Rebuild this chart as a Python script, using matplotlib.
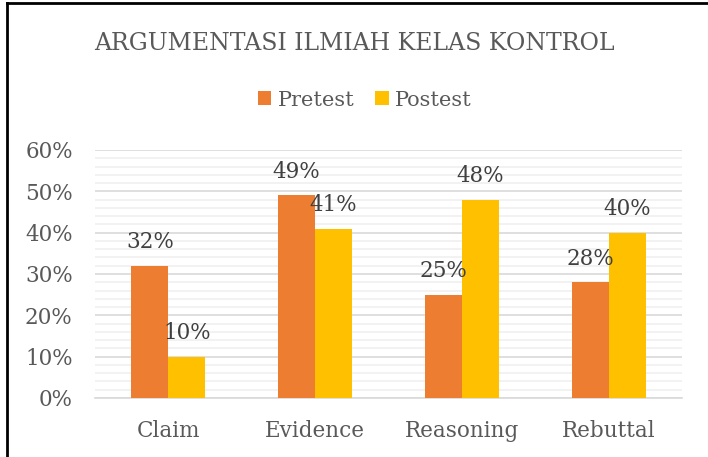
import matplotlib
matplotlib.use("Agg")
import matplotlib.pyplot as plt
from matplotlib.lines import Line2D
from matplotlib.patches import Patch
import numpy as np

categories = ["Claim", "Evidence", "Reasoning", "Rebuttal"]
pretest = [0.32, 0.49, 0.25, 0.28]
postest = [0.10, 0.41, 0.48, 0.40]
series_names = ["Pretest", "Postest"]
title = "ARGUMENTASI ILMIAH KELAS KONTROL"

plt.rcParams['font.family'] = ['DejaVu Serif']

W, H = 708, 457
fig = plt.figure(figsize=(W/100, H/100), dpi=100)
ax = fig.add_axes([95/W, 1-398/H, (682-95)/W, (398-150)/H])

orange = "#ED7D31"
yellow = "#FFC000"
x = np.arange(len(categories))
bw = 0.252
b1 = ax.bar(x - bw/2, pretest, bw, color=orange, zorder=3)
b2 = ax.bar(x + bw/2, postest, bw, color=yellow, zorder=3)

ax.set_xlim(-0.5, len(categories) - 0.5)
ax.set_ylim(0, 0.6)
ax.set_yticks(np.arange(0, 0.61, 0.1))
ax.set_yticklabels([f"{int(round(v*100))}%" for v in np.arange(0, 0.61, 0.1)])
ax.set_yticks(np.arange(0, 0.61, 0.02), minor=True)
ax.set_xticks(x)
ax.set_xticklabels(categories)
ax.grid(axis='y', which='major', color="#D9D9D9", linewidth=1.2, zorder=0)
ax.grid(axis='y', which='minor', color="#F0F0F0", linewidth=1.2, zorder=0)
ax.tick_params(axis='both', which='both', length=0, labelsize=15.5, labelcolor="#595959")
ax.tick_params(axis='y', pad=16)
ax.tick_params(axis='x', pad=16)
for s in ["top", "right", "left"]:
    ax.spines[s].set_visible(False)
ax.spines["bottom"].set_color("#D9D9D9")
ax.spines["bottom"].set_linewidth(1.2)

for bars, vals in ((b1, pretest), (b2, postest)):
    for r, v in zip(bars, vals):
        ax.annotate(f"{int(round(v*100))}%", (r.get_x() + r.get_width()/2, v),
                    xytext=(0, 17), textcoords="offset points",
                    ha="center", va="center", fontsize=15.5, color="#404040", zorder=4)

fig.text(0.5, 1-44/H, title, ha="center", va="center", fontsize=17, color="#595959")

handles = [Patch(facecolor=orange), Patch(facecolor=yellow)]
fig.legend(handles, series_names, loc="center", bbox_to_anchor=(0.515, 1-100/H), ncol=2,
           frameon=False, fontsize=15, labelcolor="#595959", handlelength=0.65,
           handleheight=0.65, handletextpad=0.3, columnspacing=1.0)

fig.add_artist(Line2D([7/W, 7/W], [0, 1-3/H], color="black", linewidth=2, transform=fig.transFigure))
fig.add_artist(Line2D([7/W, 1], [1-3/H, 1-3/H], color="black", linewidth=2, transform=fig.transFigure))

fig.savefig("out.png", dpi=100)
